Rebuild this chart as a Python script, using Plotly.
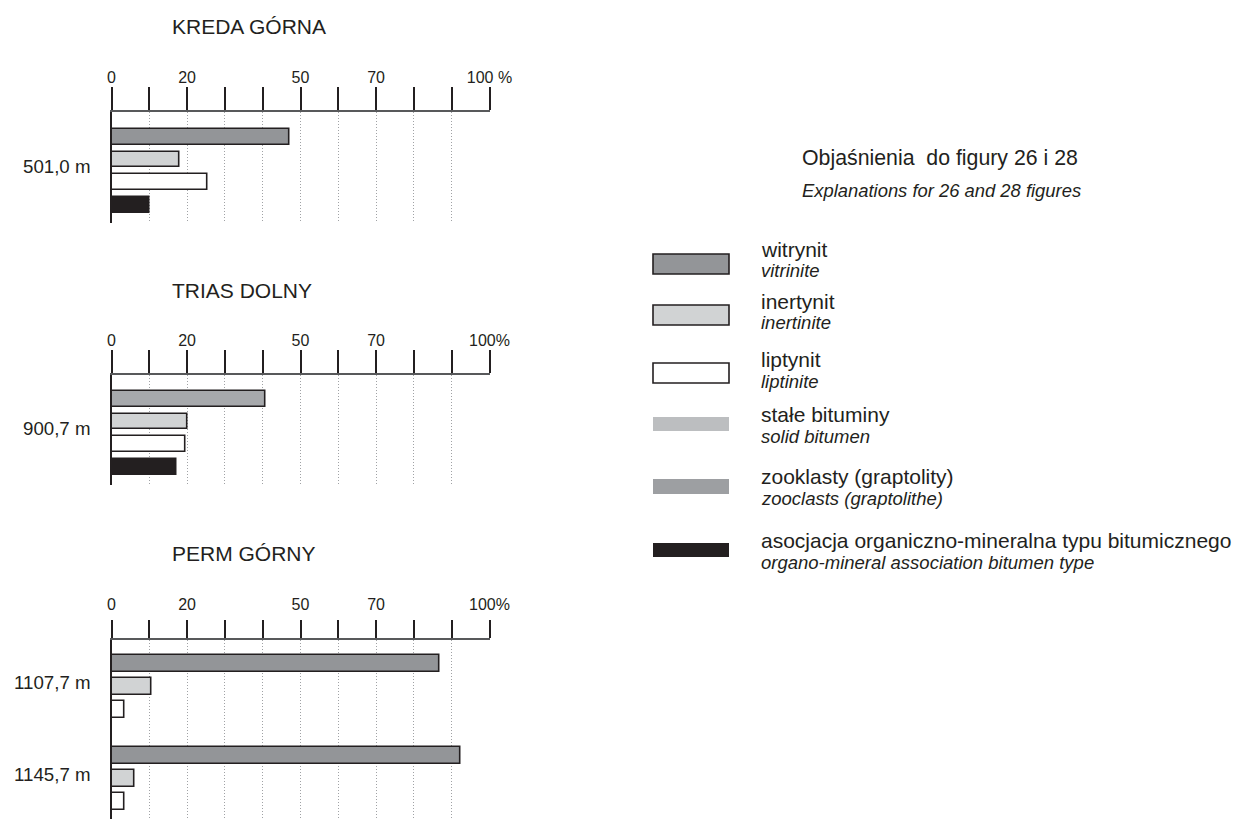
import plotly.graph_objects as go

# ---------------- data ----------------
components = ["witrynit", "inertynit", "liptynit", "asocjacja"]
kreda_501 = [47.0, 18.0, 25.5, 10.0]
trias_900 = [40.7, 20.2, 19.5, 17.3]
perm_1107 = [86.7, 10.5, 3.5]
perm_1145 = [92.3, 6.1, 3.5]

tick_values = [0, 10, 20, 30, 40, 50, 60, 70, 80, 90, 100]
tick_labels = ["0", "", "20", "", "", "50", "", "70", "", "", "100%"]

panel_titles = ["KREDA GÓRNA", "TRIAS DOLNY", "PERM GÓRNY"]
depth_labels = ["501,0 m", "900,7 m", "1107,7 m", "1145,7 m"]

legend_title = "Objaśnienia\u00a0 do figury 26 i 28"
legend_subtitle = "Explanations for 26 and 28 figures"
legend_pl = ["witrynit", "inertynit", "liptynit", "stałe bituminy",
             "zooklasty (graptolity)", "asocjacja organiczno-mineralna typu bitumicznego"]
legend_en = ["vitrinite", "inertinite", "liptinite", "solid bitumen",
             "zooclasts (graptolithe)", "organo-mineral association bitumen type"]
legend_fill = ["#939598", "#d1d3d4", "#ffffff", "#bcbec0", "#9d9fa2", "#231f20"]
legend_border = [True, True, True, False, False, False]

comp_colors = {"witrynit": "#939598", "inertynit": "#d1d3d4",
               "liptynit": "#ffffff", "asocjacja": "#231f20"}

# ---------------- layout constants (pixels) ----------------
W, H = 1234, 819
FONT = "Liberation Sans, Arial, Helvetica, sans-serif"
INK = "#231f20"
X0_PX, X1_PX = 111.5, 489.5


def px_x(p):
    return p / W


def px_y(p):
    return 1 - p / H


panels = [
    dict(title=panel_titles[0], axis_px=112, bottom_px=223, c0=136.7, pitch=22.8,
         ticklen=23, standoff=-2, last="100\u00a0%", title_px=26.5,
         groups=[(depth_labels[0], kreda_501, 0)], wit_color="#939598", barw=0.70),
    dict(title=panel_titles[1], axis_px=375, bottom_px=485, c0=398.8, pitch=22.7,
         ticklen=23, standoff=-2, last="100%", title_px=290,
         groups=[(depth_labels[1], trias_900, 0)], wit_color="#a7a9ac", barw=0.70),
    dict(title=panel_titles[2], axis_px=640, bottom_px=819, c0=663.3, pitch=23.0,
         ticklen=18, standoff=4, last="100%", title_px=553,
         groups=[(depth_labels[2], perm_1107, 0),
                 (depth_labels[3], perm_1145, len(perm_1107) + 1)],
         wit_color="#939598", barw=0.72),
]

fig = go.Figure()
annotations = []
shapes = []

for k, p in enumerate(panels, start=1):
    xa = "x" if k == 1 else f"x{k}"
    ya = "y" if k == 1 else f"y{k}"
    xs, ys, cols = [], [], []
    for label, vals, start in p["groups"]:
        slots = [start + i for i in range(len(vals))]
        for i, v in enumerate(vals):
            xs.append(v)
            ys.append(slots[i])
            c = components[i]
            cols.append(p["wit_color"] if c == "witrynit" else comp_colors[c])
        annotations.append(dict(
            text=label, xref="paper", yref=ya, x=px_x(93), xanchor="right",
            y=sum(slots) / len(slots) - 4 / p["pitch"], yanchor="middle",
            showarrow=False, font=dict(family=FONT, size=18.7, color=INK)))
    fig.add_trace(go.Bar(
        x=xs, y=ys, orientation="h", xaxis=xa, yaxis=ya, width=p["barw"],
        marker=dict(color=cols, line=dict(color=INK, width=1.6)),
        showlegend=False, hoverinfo="x"))

    ticktext = tick_labels[:-1] + [p["last"]]
    xaxis = dict(
        domain=[px_x(X0_PX), px_x(X1_PX)], range=[0, 100], anchor=ya, side="top",
        tickmode="array", tickvals=tick_values, ticktext=ticktext,
        ticks="outside", ticklen=p["ticklen"], tickwidth=1.5, tickcolor=INK,
        showline=True, linecolor="#58595b", linewidth=1.8,
        showgrid=True, gridcolor="#a0a2a5", griddash="1px,2px", gridwidth=1,
        zeroline=False, tickfont=dict(family=FONT, size=16, color=INK),
        ticklabelstandoff=p["standoff"], automargin=False, fixedrange=True)
    yaxis = dict(
        domain=[px_y(p["bottom_px"]), px_y(p["axis_px"])],
        range=[(p["bottom_px"] - p["c0"]) / p["pitch"], (p["axis_px"] - p["c0"]) / p["pitch"]],
        anchor=xa, showline=True, linecolor=INK, linewidth=1.6,
        showgrid=False, zeroline=False, showticklabels=False, ticks="",
        automargin=False, fixedrange=True)
    fig.layout["xaxis" if k == 1 else f"xaxis{k}"] = xaxis
    fig.layout["yaxis" if k == 1 else f"yaxis{k}"] = yaxis

    annotations.append(dict(
        text=p["title"], xref="paper", yref="paper", x=px_x(170), xanchor="left",
        y=px_y(p["title_px"]), yanchor="middle", showarrow=False,
        font=dict(family=FONT, size=21, color=INK)))

# ---------------- legend (explanations) ----------------
annotations.append(dict(
    text=legend_title, xref="paper", yref="paper", x=px_x(800), xanchor="left",
    y=px_y(165 - 0.35 * 21.3), yanchor="middle", showarrow=False,
    font=dict(family=FONT, size=21.3, color=INK)))
annotations.append(dict(
    text=f"<i>{legend_subtitle}</i>", xref="paper", yref="paper", x=px_x(800),
    xanchor="left", y=px_y(196.5 - 0.35 * 18.4), yanchor="middle", showarrow=False,
    font=dict(family=FONT, size=18.4, color=INK)))

box_tops = [254, 305, 363, 417, 479, 543]
box_bots = [274, 325, 383, 431, 494, 557]
main_base = [257, 308.5, 367, 422, 484, 548]
it_base = [277, 329, 388, 443, 505, 569]

for i in range(len(legend_pl)):
    shapes.append(dict(
        type="rect", xref="paper", yref="paper",
        x0=px_x(653), x1=px_x(729), y0=px_y(box_bots[i]), y1=px_y(box_tops[i]),
        fillcolor=legend_fill[i],
        line=dict(color=INK, width=1.6) if legend_border[i] else dict(width=0)))
    annotations.append(dict(
        text=legend_pl[i], xref="paper", yref="paper", x=px_x(759), xanchor="left",
        y=px_y(main_base[i] - 0.35 * 21), yanchor="middle", showarrow=False,
        font=dict(family=FONT, size=21, color=INK)))
    annotations.append(dict(
        text=f"<i>{legend_en[i]}</i>", xref="paper", yref="paper", x=px_x(759),
        xanchor="left", y=px_y(it_base[i] - 0.35 * 18.5), yanchor="middle",
        showarrow=False, font=dict(family=FONT, size=18.5, color=INK)))

fig.update_layout(
    width=W, height=H, autosize=False, margin=dict(l=0, r=0, t=0, b=0, pad=0),
    paper_bgcolor="white", plot_bgcolor="white",
    annotations=annotations, shapes=shapes, bargap=0,
    font=dict(family=FONT, color=INK))

fig.write_html(
    "out.html",
    config={"responsive": False, "displayModeBar": False},
    post_script=("document.documentElement.style.overflow='hidden';"
                 "document.body.style.margin='0';"
                 "document.body.style.overflow='hidden';"))
